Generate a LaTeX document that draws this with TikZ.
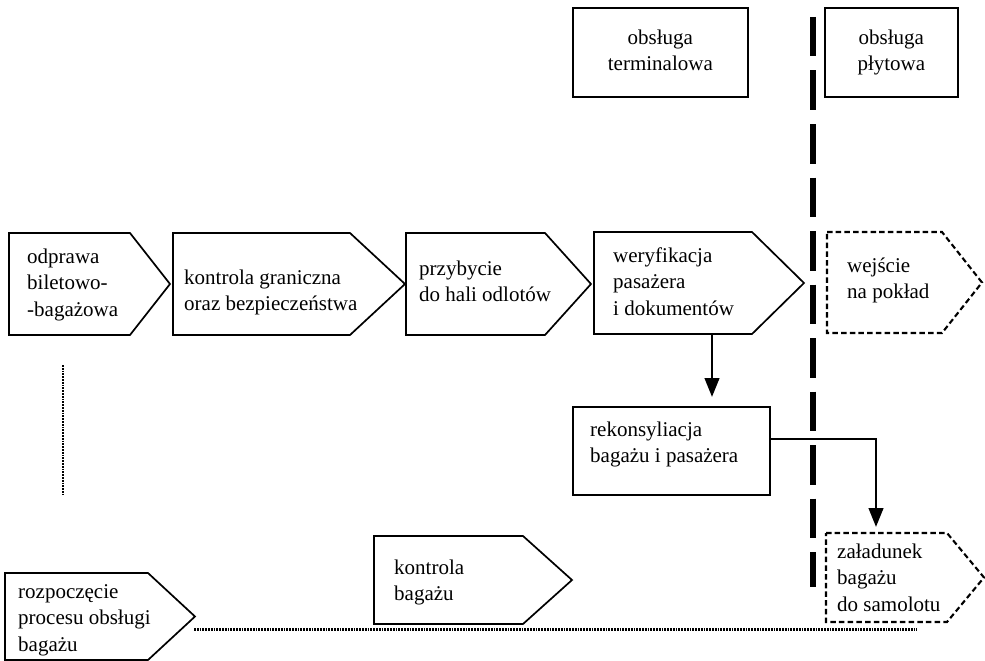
\documentclass[tikz,border=0pt]{standalone}
\usepackage{fontspec}
\setmainfont{Liberation Serif}
\usetikzlibrary{arrows.meta}
\tikzset{
  solidbox/.style={line width=1.7pt, line join=miter},
  dashbox/.style={line width=2.1pt, dash pattern=on 5.5pt off 3.2pt, line join=miter},
  rectbox/.style={draw, line width=1.7pt, rectangle, inner sep=0pt, anchor=north west},
  txt/.style={anchor=north west, inner sep=0pt, align=left, font=\fontsize{21}{26.5}\selectfont},
  ctxt/.style={inner sep=0pt, align=center, font=\fontsize{21}{26.5}\selectfont},
  flow/.style={line width=2.8pt, -{Triangle[length=19pt,width=14.5pt]}},
  conn/.style={line width=1.4pt},
  divider/.style={line width=6.5pt, dash pattern=on 39.5pt off 14pt},
  dotline/.style={line width=2.4pt, dash pattern=on 1.7pt off 1.1pt},
}
\newcommand\pentabox[7]{% name, left, top, right, bottom, tip x, style
  \coordinate (#1-nw) at (#2,#3);
  \coordinate (#1-ne) at (#4,#3);
  \coordinate (#1-tip) at (#6,{(#3+#5)/2});
  \coordinate (#1-se) at (#4,#5);
  \coordinate (#1-sw) at (#2,#5);
  \draw[#7] (#1-nw) -- (#1-ne) -- (#1-tip) -- (#1-se) -- (#1-sw) -- cycle;
}
\begin{document}
\begin{tikzpicture}[x=1pt,y=-1pt]
\useasboundingbox (0,0) rectangle (985,661);

% top header boxes
\node[rectbox, minimum width=175pt, minimum height=89pt] (term) at (572,7) {};
\node[ctxt] (termt) at (term.center) {\strut obsługa\\terminalowa\strut};
\node[rectbox, minimum width=133pt, minimum height=89pt] (plyt) at (824,7) {};
\node[ctxt] (plytt) at (plyt.center) {\strut obsługa\\płytowa\strut};

% divider
\coordinate (d1) at (813,17);
\coordinate (d2) at (813,587);
\draw[divider] (d1) -- (d2);

% main row
\pentabox{b1}{9}{233}{130}{335}{170}{solidbox}
\node[txt] (t1) at (27,244.5) {\strut odprawa\\biletowo-\\-bagażowa};
\pentabox{b2}{173}{233}{350}{335}{405}{solidbox}
\node[txt] (t2) at (184,265.5) {\strut kontrola graniczna\\oraz bezpieczeństwa};
\pentabox{b3}{406}{233}{545}{335}{591}{solidbox}
\node[txt] (t3) at (419,256.5) {\strut przybycie\\do hali odlotów};
\pentabox{b4}{594}{232}{752}{334}{804}{solidbox}
\node[txt] (t4) at (613,243.5) {\strut weryfikacja\\pasażera\\i dokumentów};
\pentabox{b5}{827}{232}{942}{333}{982}{dashbox}
\node[txt] (t5) at (847,253.5) {\strut wejście\\na pokład};

% reconciliation
\node[rectbox, minimum width=197pt, minimum height=88pt] (rek) at (572,406) {};
\node[txt] (rekt) at (590,417.5) {\strut rekonsyliacja\\bagażu i pasażera};

% loading
\pentabox{zal}{826}{533}{947}{622}{984}{dashbox}
\node[txt] (zalt) at (837,539.5) {\strut załadunek\\bagażu\\do samolotu};

% baggage row
\pentabox{roz}{5}{573}{148}{660}{195}{solidbox}
\node[txt] (rozt) at (18,579.5) {\strut rozpoczęcie\\procesu obsługi\\bagażu};
\pentabox{kb}{374}{536}{523}{624}{572}{solidbox}
\node[txt] (kbt) at (394,555.5) {\strut kontrola\\bagażu};

% connectors
\coordinate (x1) at (712,0);
\draw[flow] (b4-sw -| x1) -- ([yshift=9pt]rek.north -| x1);
\coordinate (x2) at (876,0);
\coordinate (rekout) at ([yshift=12pt]rek.east);
\coordinate (turn) at (rekout -| x2);
\draw[conn] (rekout) -- (turn);
\draw[flow] ([yshift=0.7pt]turn) -- ([yshift=6pt]zal-nw -| x2);

% dotted lines
\coordinate (v1) at (63,365);
\coordinate (v2) at (63,495);
\draw[dotline] (v1) -- (v2);
\coordinate (h1) at (194,629.5);
\coordinate (h2) at (917,629.5);
\draw[dotline] (h1) -- (h2);
\end{tikzpicture}
\end{document}
